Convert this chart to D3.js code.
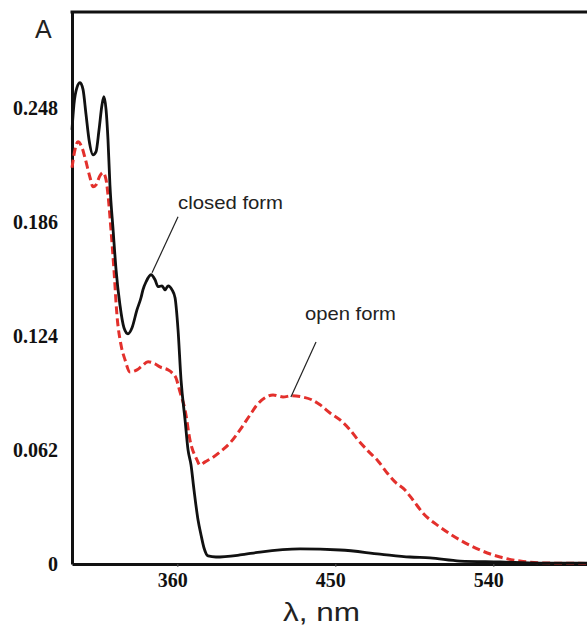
<!DOCTYPE html>
<html>
<head>
<meta charset="utf-8">
<script src="https://d3js.org/d3.v7.min.js"></script>
<style>
  html, body { margin: 0; padding: 0; background: #fff; }
  #chart { width: 587px; height: 626px; overflow: hidden; }
  .tick-label { font-family: "Liberation Serif", "Times New Roman", serif; font-weight: bold; font-size: 20px; fill: #111; }
  .note { font-family: "Liberation Sans", Arial, sans-serif; font-size: 19px; fill: #222; }
</style>
</head>
<body>
<div id="chart"></div>
<script>
// wavelength (nm) / absorbance
const closedWl = [300, 301.1, 302.8, 304.6, 306.3, 308.0, 309.7, 312.0, 313.7, 315.4, 317.1, 318.2, 319.4, 320.5, 321.6,
  323.4, 325.1, 327.3, 329.6, 331.9, 334.2, 337.0, 339.3, 340.4, 342.2, 345.0, 347.3, 349.0, 351.3, 353.0, 354.7,
  357.0, 358.7, 360.4, 362.1, 364.4, 366.1, 367.8, 369.5, 371.8, 373.5, 375.2, 377.5, 382.0, 395.7, 407.1, 429.9,
  452.7, 475.4, 492.5, 503.9, 521.0, 543.8, 566.6, 600];
const closedAbs = [0.236, 0.2496, 0.2589, 0.2616, 0.2578, 0.2442, 0.2306, 0.2224, 0.2241, 0.236, 0.2496, 0.254, 0.2469, 0.2306, 0.2061,
  0.1817, 0.1599, 0.1409, 0.1284, 0.1251, 0.1284, 0.1381, 0.1447, 0.149, 0.1534, 0.1572, 0.1545, 0.1507, 0.1512, 0.149, 0.1512,
  0.149, 0.1447, 0.1273, 0.1001, 0.0783, 0.062, 0.0538, 0.0402, 0.0239, 0.0158, 0.0087, 0.0044, 0.0038, 0.0049, 0.0065, 0.0082,
  0.0076, 0.0054, 0.0038, 0.0033, 0.0016, 0.0011, 0.0005, 0.0005];

const openWl = [300, 301.7, 303.4, 305.7, 307.4, 310.3, 312.0, 313.7, 315.9, 317.7, 319.4, 320.5, 322.2, 323.9, 325.6,
  327.9, 330.2, 333.0, 337.0, 339.9, 343.3, 347.3, 350.1, 354.7, 357.0, 359.2, 361.5, 364.4, 367.2, 371.2, 372.9,
  375.8, 379.7, 384.3, 390.0, 395.7, 401.4, 405.4, 409.9, 414.5, 420.2, 425.3, 431.0, 436.7, 441.3, 447.0, 452.7,
  458.4, 462.9, 468.6, 474.3, 480.0, 484.0, 489.7, 494.2, 499.9, 509.6, 520.9, 532.4, 543.8, 555.2, 572.3, 600];
const openAbs = [0.2154, 0.2252, 0.2295, 0.2263, 0.2208, 0.2099, 0.205, 0.2061, 0.211, 0.2127, 0.2088, 0.2007, 0.1817, 0.1599, 0.1354,
  0.1191, 0.111, 0.1044, 0.1055, 0.1077, 0.1099, 0.1088, 0.1071, 0.1055, 0.1039, 0.1012, 0.0935, 0.0838, 0.0674, 0.0566, 0.0538,
  0.0555, 0.0576, 0.0609, 0.0658, 0.0729, 0.081, 0.0865, 0.0903, 0.0919, 0.0908, 0.0914, 0.0908, 0.0892, 0.0865, 0.0821, 0.0783,
  0.0729, 0.0674, 0.0615, 0.056, 0.0489, 0.0446, 0.0402, 0.0348, 0.0277, 0.0201, 0.0131, 0.0076, 0.0038, 0.0016, 0.0005, 0.0003];

const xTicks = [360, 450, 540];
const yTicks = [0, 0.062, 0.124, 0.186, 0.248];

// label text, label position, leader line from -> to (data units)
const notes = [
  { text: "closed form", at: [360.4, 0.193], width: 105, from: [360.4, 0.1887], to: [345.6, 0.1583] },
  { text: "open form", at: [432.7, 0.1327], width: 91, from: [439.0, 0.1207], to: [424.7, 0.0908] }
];

class SpectrumChart {
  constructor(selector) {
    this.selector = selector;
  }

  initialize() {
    this.setup_bounds();
    this.setup_scales();
    this.setup_svg();
    this.draw_axes();
    this.draw_lines();
    this.draw_notes();
  }

  setup_bounds() {
    this.width = 587;
    this.height = 626;
    this.margin = { top: 12, left: 72, bottom: 62 };
  }

  setup_scales() {
    // 90 nm spans ~158 px, so the axis runs past the right edge of the picture
    this.x = d3.scaleLinear()
      .domain([300, 600])
      .range([this.margin.left, this.margin.left + 300 * 158 / 90]);
    this.y = d3.scaleLinear()
      .domain([0, 0.3])
      .range([this.height - this.margin.bottom, this.margin.top]);
  }

  setup_svg() {
    this.svg = d3.select(this.selector)
      .append("svg")
      .attr("width", this.width)
      .attr("height", this.height);
  }

  draw_axes() {
    const x = this.x, y = this.y;

    const xAxis = this.svg.append("g")
      .attr("transform", "translate(0," + y(0) + ")")
      .call(d3.axisBottom(x).tickValues(xTicks).tickSize(3).tickSizeOuter(0).tickPadding(6).tickFormat(d3.format("d")));
    xAxis.select(".domain").attr("stroke", "#111").attr("stroke-width", 3);
    xAxis.selectAll(".tick line").attr("stroke", "#555").attr("stroke-width", 1);
    xAxis.selectAll(".tick text").attr("class", "tick-label").attr("dx", -5).attr("fill", null)
      .attr("font-size", null).attr("font-family", null);

    const yAxis = this.svg.append("g")
      .attr("transform", "translate(" + x(300) + ",0)")
      .call(d3.axisLeft(y).tickValues(yTicks).tickSize(0).tickPadding(14)
        .tickFormat(d => d === 0 ? "0" : d3.format(".3f")(d)));
    yAxis.select(".domain").attr("stroke", "#111").attr("stroke-width", 3);
    yAxis.selectAll(".tick text").attr("class", "tick-label").attr("fill", null)
      .attr("font-size", null).attr("font-family", null);

    // top border of the frame
    this.svg.append("line")
      .attr("x1", x(300) - 1.5).attr("x2", x(600))
      .attr("y1", y(0.3)).attr("y2", y(0.3))
      .attr("stroke", "#111").attr("stroke-width", 3);

    this.svg.append("text")
      .attr("x", 35).attr("y", 38)
      .attr("font-family", "Liberation Sans, Arial, sans-serif")
      .attr("font-size", 25).attr("fill", "#222")
      .text("A");

    this.svg.append("text")
      .attr("x", 283).attr("y", 621)
      .attr("font-family", "Liberation Sans, Arial, sans-serif")
      .attr("font-size", 26).attr("fill", "#222")
      .attr("textLength", 77).attr("lengthAdjust", "spacingAndGlyphs")
      .text("λ, nm");
  }

  draw_lines() {
    const line = d3.line()
      .x(d => this.x(d[0]))
      .y(d => this.y(d[1]))
      .curve(d3.curveMonotoneX);

    const closed = closedWl.map((w, i) => [w, closedAbs[i]]);
    const open = openWl.map((w, i) => [w, openAbs[i]]);

    this.svg.append("path")
      .datum(open)
      .attr("d", line)
      .attr("fill", "none")
      .attr("stroke", "#e3302c")
      .attr("stroke-width", 3)
      .attr("stroke-dasharray", "8,4");

    this.svg.append("path")
      .datum(closed)
      .attr("d", line)
      .attr("fill", "none")
      .attr("stroke", "#111")
      .attr("stroke-width", 2.8)
      .attr("stroke-linejoin", "round");
  }

  draw_notes() {
    const g = this.svg.append("g");
    g.selectAll(".leader")
      .data(notes)
      .enter()
      .append("line")
      .attr("class", "leader")
      .attr("x1", d => this.x(d.from[0])).attr("y1", d => this.y(d.from[1]))
      .attr("x2", d => this.x(d.to[0])).attr("y2", d => this.y(d.to[1]))
      .attr("stroke", "#222").attr("stroke-width", 1.2);

    g.selectAll(".note")
      .data(notes)
      .enter()
      .append("text")
      .attr("class", "note")
      .attr("x", d => this.x(d.at[0]))
      .attr("y", d => this.y(d.at[1]))
      .attr("textLength", d => d.width)
      .attr("lengthAdjust", "spacingAndGlyphs")
      .text(d => d.text);
  }
}

const chart = new SpectrumChart("#chart");
chart.initialize();
</script>
</body>
</html>
